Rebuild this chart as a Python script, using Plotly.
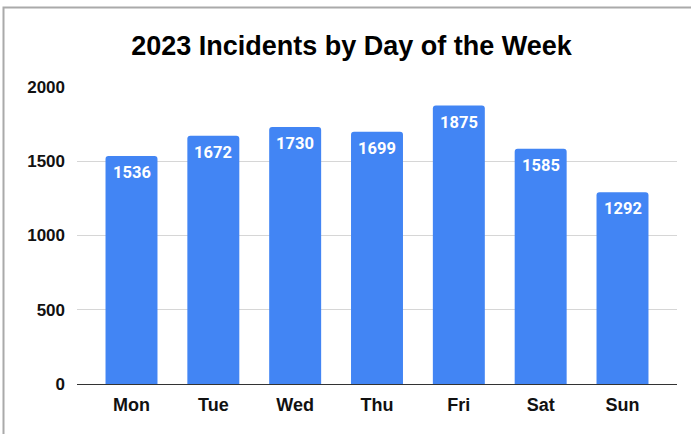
import plotly.graph_objects as go

days = ["Mon", "Tue", "Wed", "Thu", "Fri", "Sat", "Sun"]
incidents = [1536, 1672, 1730, 1699, 1875, 1585, 1292]
y_ticks = [0, 500, 1000, 1500, 2000]

BAR = "#4285F4"

fig = go.Figure()
fig.add_trace(go.Bar(
    x=list(range(len(days))), y=incidents,
    marker=dict(color=BAR, line=dict(width=0), cornerradius=3),
    hovertext=days, hoverinfo="text+y",
))

annotations = []
for i, v in enumerate(incidents):
    annotations.append(dict(
        x=i, y=v, xref="x", yref="y", text=f"<b>{v}</b>", showarrow=False,
        yanchor="top", yshift=-5,
        font=dict(family="Roboto, Liberation Sans, Arial", size=16.5, color="white"),
    ))

fig.update_layout(
    width=691, height=434,
    margin=dict(l=77, r=14, t=87, b=50),
    paper_bgcolor="white", plot_bgcolor="white",
    title=dict(text="<b>2023 Incidents by Day of the Week</b>", x=351.5/691, xref="container",
               xanchor="center", y=1 - 46/434, yref="container", yanchor="middle",
               font=dict(family="Liberation Sans, Arial", size=27, color="black")),
    bargap=0.365,
    showlegend=False,
    annotations=annotations,
    xaxis=dict(range=[-0.666, 6.666], tickvals=list(range(len(days))),
               ticktext=[f"<b>{d}</b>" for d in days],
               showgrid=False, showline=False, ticks="", ticklabelstandoff=8,
               tickfont=dict(family="Liberation Sans, Arial", size=18, color="#111")),
    yaxis=dict(range=[0, 2000], tickvals=y_ticks,
               ticktext=[f"<b>{t}</b>" for t in y_ticks],
               showgrid=True, gridcolor="#d6d6d6",
               gridwidth=1, zeroline=True, zerolinecolor="#333", zerolinewidth=1,
               showline=False, ticks="", ticklabelstandoff=11,
               tickfont=dict(family="Liberation Sans, Arial", size=17, color="#111")),
    shapes=[dict(type="rect", xref="paper", yref="paper",
                 x0=(3.5 - 77) / 600, x1=1.2, y0=-0.5, y1=(384 - 7.5) / 297,
                 line=dict(color="#aaaaaa", width=2), fillcolor="rgba(0,0,0,0)",
                 layer="below")],
)

fig.write_html("out.html", config={"displayModeBar": False},
               post_script="document.body.style.margin='0';document.body.style.padding='0';")
